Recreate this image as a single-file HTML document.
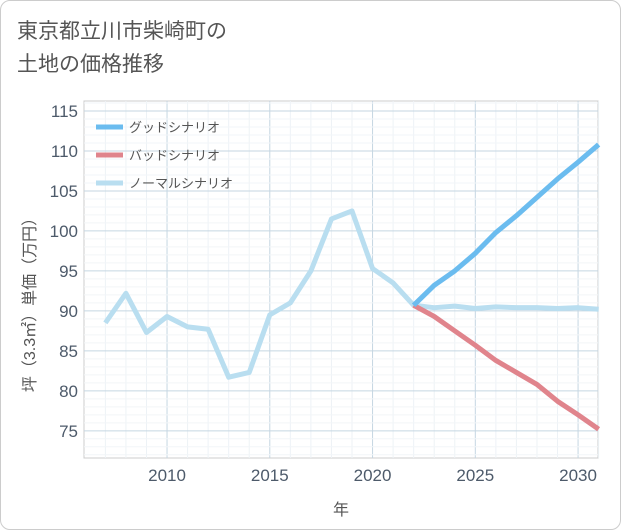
<!DOCTYPE html>
<html><head><meta charset="utf-8"><style>
body{margin:0;background:#fff;}
#wrap{position:relative;width:619px;height:528px;border:1px solid #ccc;border-radius:10px;overflow:hidden;background:#fff;font-family:"Liberation Sans","Noto Sans CJK JP",sans-serif;}
#title{position:absolute;left:16px;top:14px;font-size:21px;line-height:33px;color:#555;}
</style></head><body>
<div id="wrap">
<div id="title">東京都立川市柴崎町の<br>土地の価格推移</div>
<svg id="chart" width="621" height="530" style="position:absolute;left:0;top:0"></svg>
</div>
<script>
const years=[2007,2008,2009,2010,2011,2012,2013,2014,2015,2016,2017,2018,2019,2020,2021,2022,2023,2024,2025,2026,2027,2028,2029,2030,2031];
const normalVals=[88.5,92.2,87.3,89.3,88,87.7,81.7,82.3,89.5,91,95,101.5,102.5,95.3,93.5,90.7,90.4,90.6,90.3,90.5,90.4,90.4,90.3,90.4,90.2];
const futureYears=[2022,2023,2024,2025,2026,2027,2028,2029,2030,2031];
const goodVals=[90.7,93.2,95,97.2,99.8,101.9,104.2,106.5,108.6,110.8];
const badVals=[90.7,89.3,87.5,85.7,83.8,82.3,80.8,78.7,77,75.2];
const xTicks=[2010,2015,2020,2025,2030];
const yTicks=[75,80,85,90,95,100,105,110,115];
const legendLabels=["グッドシナリオ","バッドシナリオ","ノーマルシナリオ"];
const colors=["#6bbcef","#e0848c","#b9def0"];
const L=83,R=597,T=100,B=457;
const x=v=>L+(v-2005.96)*(R-L)/(2030.97-2005.96);
const y=v=>T+(116.25-v)*(B-T)/(116.25-71.6);
const svg=document.getElementById('chart');const NS='http://www.w3.org/2000/svg';
function mk(t,a,p){const e=document.createElementNS(NS,t);for(const k in a)e.setAttribute(k,a[k]);(p||svg).appendChild(e);return e;}
const bg=mk('rect',{x:L,y:T,width:R-L,height:B-T,fill:'#fff',stroke:'#ccc'});

for(let yr=2007;yr<=2031;yr++){const g=mk('line',{x1:x(yr),x2:x(yr),y1:T,y2:B,stroke:xTicks.includes(yr)?'#c5d6e2':'#edf2f6'});}
for(let v=72;v<=116;v++){if(y(v)<T||y(v)>B)continue;const g=mk('line',{x1:L,x2:R,y1:y(v),y2:y(v),stroke:yTicks.includes(v)?'#c5d6e2':'#f2f5f8'});}
xTicks.forEach(t=>{const e=mk('text',{x:x(t),y:480,'text-anchor':'middle','font-size':17,fill:'#4d5a6a'});e.textContent=t;});
yTicks.forEach(t=>{const e=mk('text',{x:77,y:y(t)+6,'text-anchor':'end','font-size':17,fill:'#4d5a6a'});e.textContent=t;});
const xt=mk('text',{x:340,y:514,'text-anchor':'middle','font-size':16,fill:'#555'});xt.textContent='年';
const yt=mk('text',{x:0,y:0,'text-anchor':'middle','font-size':16,fill:'#555',transform:'translate(34,300) rotate(-90)'});yt.textContent='坪（3.3㎡）単価（万円）';
function line(xs,vs,c,name){const p=mk('polyline',{points:xs.map((a,i)=>x(a)+','+y(vs[i])).join(' '),fill:'none',stroke:c,'stroke-width':5,'stroke-linejoin':'round'});}
line(years,normalVals,colors[2],'normal-scenario-line');
line(futureYears,badVals,colors[1],'bad-scenario-line');
line(futureYears,goodVals,colors[0],'good-scenario-line');
legendLabels.forEach((l,i)=>{const g=mk('g',{});
mk('line',{x1:95,x2:122,y1:126+i*28,y2:126+i*28,stroke:colors[i],'stroke-width':5},g);
const t=mk('text',{x:128,y:131+i*28,'font-size':13,fill:'#555'},g);t.textContent=l;});
</script>
</body></html>
